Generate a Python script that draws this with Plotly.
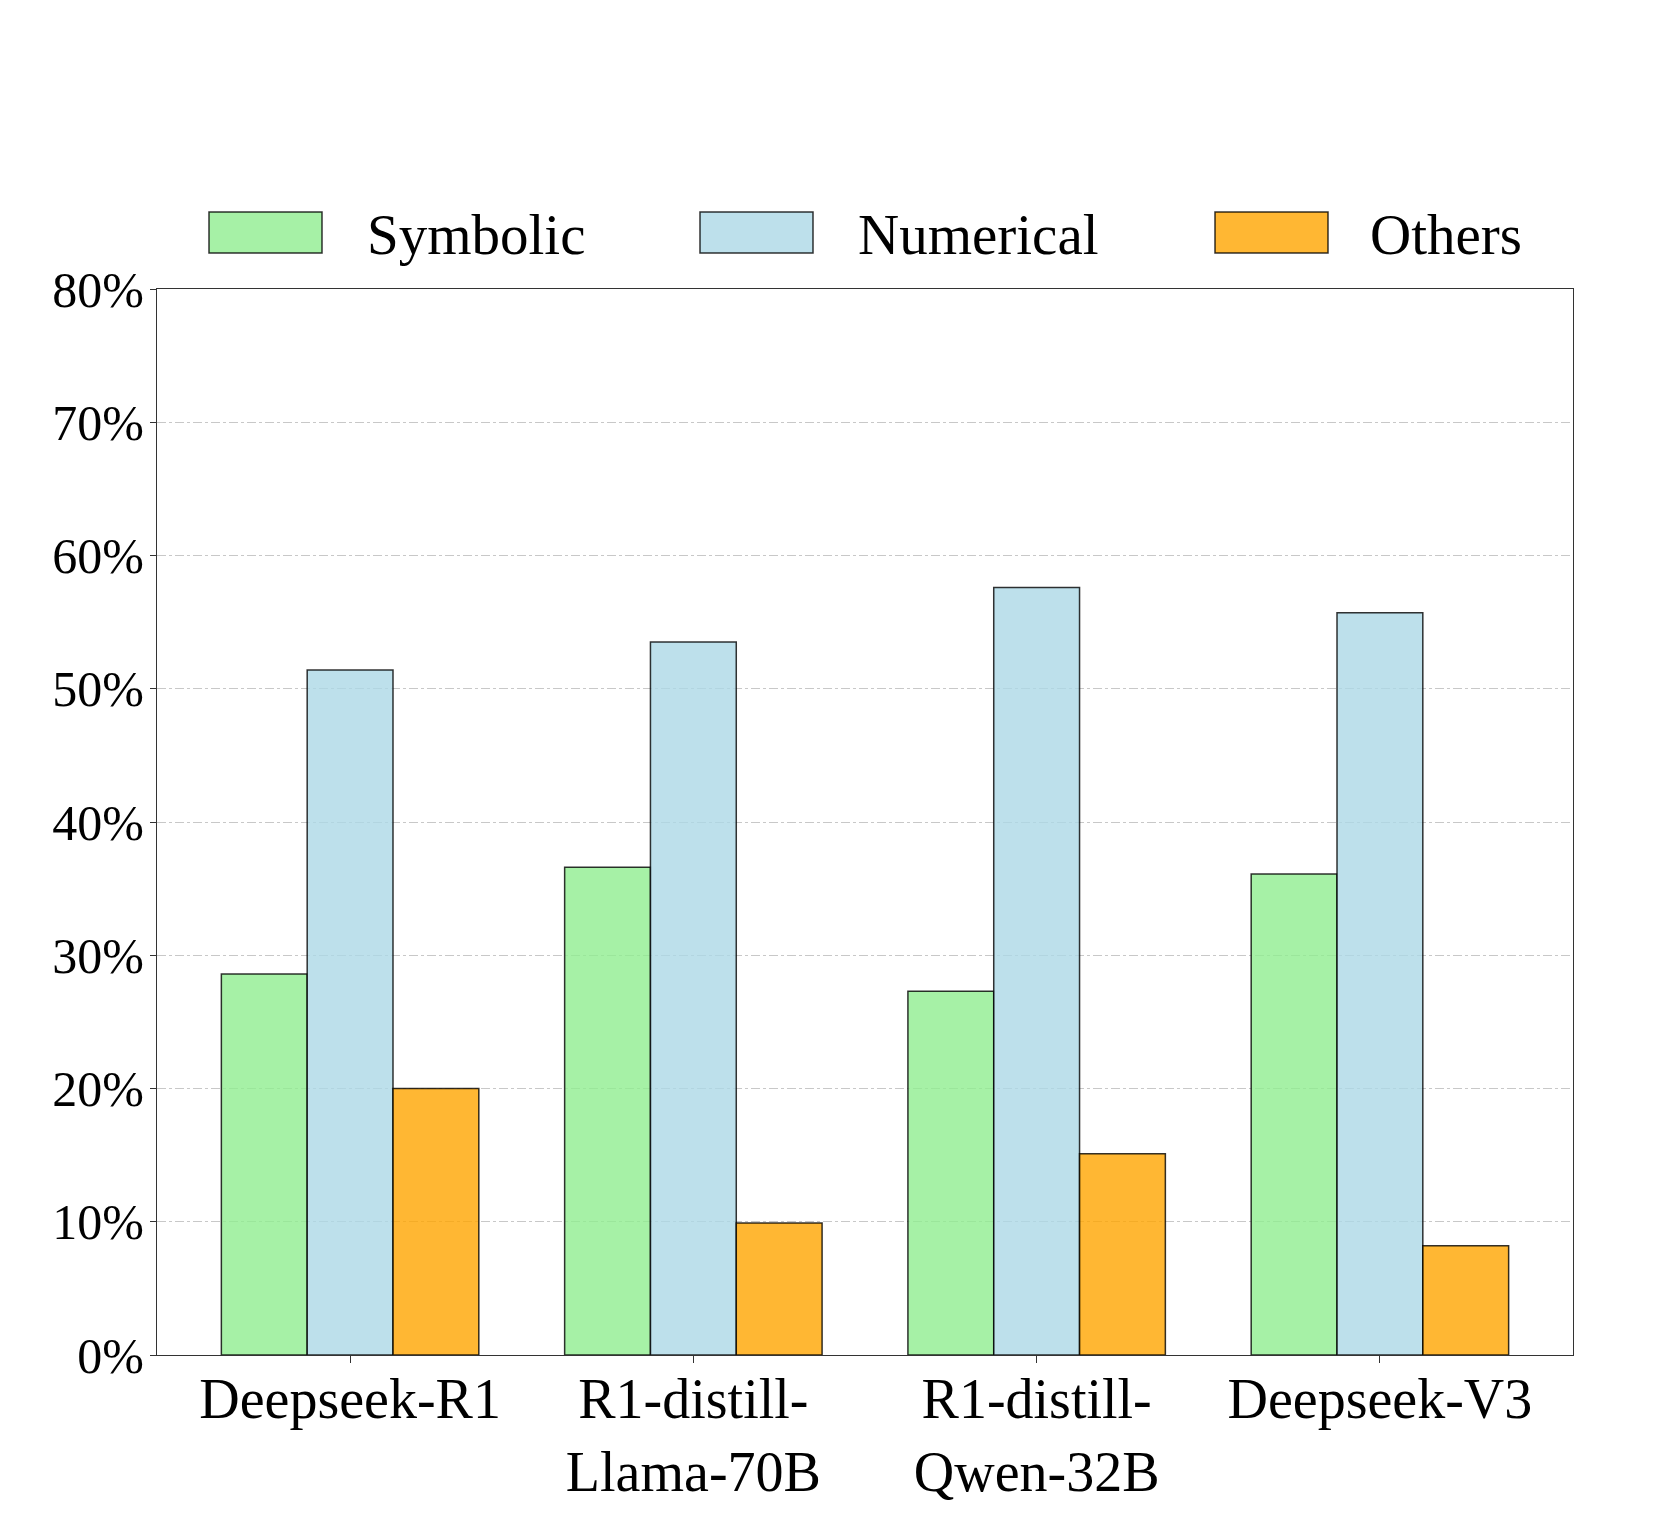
import plotly.graph_objects as go

# ---- data ----
models = ["Deepseek-R1", "R1-distill-<br>Llama-70B", "R1-distill-<br>Qwen-32B", "Deepseek-V3"]
symbolic = [28.6, 36.6, 27.3, 36.1]
numerical = [51.4, 53.5, 57.6, 55.7]
others = [20.0, 9.9, 15.1, 8.2]
series_names = ["Symbolic", "Numerical", "Others"]
y_ticks = [0, 10, 20, 30, 40, 50, 60, 70, 80]
y_tick_labels = ["0%", "10%", "20%", "30%", "40%", "50%", "60%", "70%", "80%"]

# ---- style ----
W, H = 1661, 1533
L, R, T, B = 149, 96, 281, 186
FONT = "Liberation Serif, Times New Roman, serif"
fills = ["rgba(144,238,144,0.8)", "rgba(173,216,230,0.8)", "rgba(255,165,0,0.8)"]
edge = "rgba(0,0,0,0.8)"

fig = go.Figure()
for name, vals, col in zip(series_names, [symbolic, numerical, others], fills):
    fig.add_trace(go.Bar(
        x=models, y=vals, name=name,
        marker=dict(color=col, line=dict(color=edge, width=1.5)),
        showlegend=False,
    ))

pw = W - L - R
ph = H - T - B


def px_x(p):
    return (p - L) / pw


def px_y(p):
    return (H - B - p) / ph


# manual legend (matplotlib-like large patches)
legend_items = [(201, 357), (692, 848), (1207, 1360)]
for (patch_x, text_x), name, col in zip(legend_items, series_names, fills):
    fig.add_shape(type="rect", xref="paper", yref="paper",
                  x0=px_x(patch_x), x1=px_x(patch_x + 113),
                  y0=px_y(245), y1=px_y(204),
                  fillcolor=col, line=dict(color=edge, width=1.5))
    fig.add_annotation(xref="paper", yref="paper", x=px_x(text_x), y=px_y(226),
                       text=name, showarrow=False, xanchor="left", yanchor="middle",
                       font=dict(family=FONT, size=57, color="black"))

fig.update_layout(
    width=W, height=H,
    margin=dict(l=L, r=R, t=T, b=B, pad=0),
    paper_bgcolor="white", plot_bgcolor="white",
    barmode="group", bargap=0.25, bargroupgap=0,
    font=dict(family=FONT, color="black"),
)
fig.update_xaxes(
    range=[-0.5625, 3.5625],
    showline=True, linecolor="#333", linewidth=1.4, mirror=True,
    ticks="outside", ticklen=7, tickwidth=1.3, tickcolor="#333",
    tickfont=dict(family=FONT, size=56, color="black"),
    ticklabelstandoff=-12,
    showgrid=False,
)
fig.update_yaxes(
    range=[0, 80], tickvals=y_ticks, ticktext=y_tick_labels,
    showline=True, linecolor="#333", linewidth=1.4, mirror=True,
    ticks="outside", ticklen=6, tickwidth=1.3, tickcolor="#333",
    tickfont=dict(family=FONT, size=50, color="black"),
    ticklabelstandoff=-4,
    showgrid=True, gridcolor="#c8c8c8", gridwidth=1.3, griddash="dashdot",
    zeroline=False,
)

fig.write_html("out.html")
